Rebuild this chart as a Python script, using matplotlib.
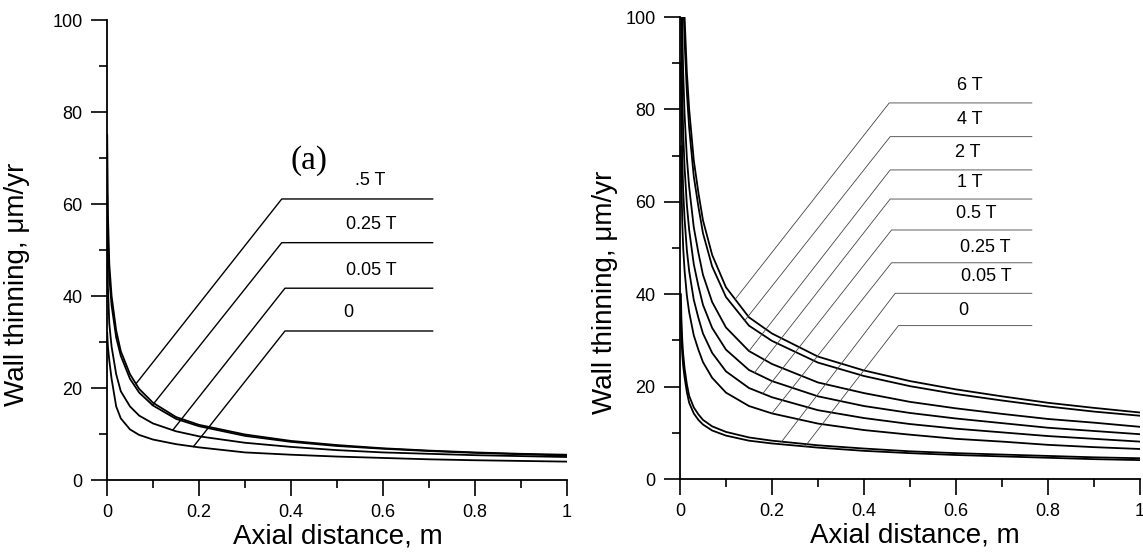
import numpy as np
import matplotlib
matplotlib.use("Agg")
import matplotlib.pyplot as plt
from matplotlib.ticker import MultipleLocator, FuncFormatter

plt.rcParams['font.family'] = ['Liberation Sans', 'DejaVu Sans']

# ---- panel (a) data ----
x_a = [0.0005, 0.002, 0.005, 0.01, 0.02, 0.03, 0.05, 0.07, 0.1, 0.15,
       0.2, 0.3, 0.4, 0.5, 0.6, 0.7, 0.8, 0.9, 1.0]
labels_a = ['.5 T', '0.25 T', '0.05 T', '0']
y_a_05 = [75, 58, 47, 40, 32.5, 28, 23, 19.8, 16.8, 13.7,
          12.0, 9.9, 8.5, 7.6, 6.9, 6.4, 6.0, 5.7, 5.5]
y_a_025 = [62, 52, 44, 38, 31, 27, 22, 19, 16.2, 13.3,
           11.7, 9.6, 8.3, 7.4, 6.8, 6.3, 5.9, 5.6, 5.3]
y_a_005 = [54, 42, 34, 29, 23, 19.3, 16, 14, 12.3, 10.6,
           9.5, 8.1, 7.2, 6.5, 6.0, 5.7, 5.4, 5.2, 5.0]
y_a_0 = [32, 29, 26, 22, 16, 13.4, 11, 9.8, 8.8, 7.8,
         7.1, 6.0, 5.5, 5.1, 4.8, 4.5, 4.3, 4.15, 4.0]

# ---- panel (b) data ----
x_b = [0.002, 0.003, 0.005, 0.007, 0.01, 0.015, 0.02, 0.03, 0.04, 0.05, 0.07,
       0.1, 0.15, 0.2, 0.3, 0.4, 0.5, 0.6, 0.7, 0.8, 0.9, 1.0]
labels_b = ['6 T', '4 T', '2 T', '1 T', '0.5 T', '0.25 T', '0.05 T', '0']
y_b_6 = [160, 145, 123, 111, 100, 88, 80, 69, 62, 56, 48.5,
         41.5, 35, 31.5, 26.5, 23.5, 21.2, 19.4, 17.9, 16.5, 15.4, 14.4]
y_b_4 = [152, 138, 117, 105, 95, 83.6, 76, 65.5, 59, 53.2, 46,
         39.4, 33.2, 29.9, 25.2, 22.3, 20.1, 18.4, 17.0, 15.7, 14.6, 13.7]
y_b_2 = [126, 115, 97, 88, 79, 69.5, 63.2, 54.5, 49, 44.2, 38.3,
         32.8, 27.7, 24.9, 20.9, 18.6, 16.7, 15.3, 14.1, 13.0, 12.2, 11.3]
y_b_1 = [108, 98, 83, 75, 67.4, 59.3, 53.9, 46.5, 41.8, 37.7, 32.7,
         28, 23.6, 21.2, 17.9, 15.8, 14.3, 13.1, 12.1, 11.1, 10.4, 9.7]
y_b_05 = [90, 81.6, 69.2, 62.4, 56.3, 49.5, 45, 38.8, 34.9, 31.5, 27.3,
          23.3, 19.7, 17.7, 14.9, 13.2, 11.9, 10.9, 10.1, 9.3, 8.7, 8.1]
y_b_025 = [72, 65.4, 55.5, 50, 45.1, 39.7, 36.1, 31.1, 28, 25.3, 21.9,
           18.7, 15.8, 14.2, 12, 10.6, 9.6, 8.7, 8.1, 7.4, 6.9, 6.5]
y_b_005 = [40, 35, 30, 27, 24, 20.5, 18, 15.5, 14, 12.8, 11.4,
           10.2, 9.0, 8.3, 7.3, 6.6, 6.0, 5.6, 5.3, 5.0, 4.7, 4.5]
y_b_0 = [35, 31, 27, 24.5, 22, 18.8, 16.5, 14.2, 12.8, 11.8, 10.5,
         9.4, 8.3, 7.7, 6.8, 6.1, 5.6, 5.2, 4.9, 4.6, 4.3, 4.1]

# leader lines: x where it leaves the curve, knee x, knee y, end x, label x, label y
lead_a = [(0.063, 0.380, 61.1, 0.708, 0.572, 63.2),
          (0.099, 0.380, 51.6, 0.708, 0.575, 53.7),
          (0.143, 0.387, 41.7, 0.708, 0.575, 43.6),
          (0.188, 0.387, 32.4, 0.708, 0.525, 34.6)]
lead_b = [(0.120, 0.455, 81.4, 0.765, 0.631, 83.3),
          (0.141, 0.457, 74.1, 0.765, 0.629, 75.9),
          (0.150, 0.457, 66.9, 0.765, 0.625, 68.8),
          (0.162, 0.457, 60.6, 0.765, 0.629, 62.3),
          (0.180, 0.460, 53.9, 0.765, 0.645, 55.7),
          (0.200, 0.460, 46.8, 0.765, 0.663, 48.3),
          (0.221, 0.468, 40.2, 0.765, 0.665, 42.0),
          (0.272, 0.475, 33.2, 0.765, 0.617, 34.6)]


def style_axes(ax):
    ax.set_xlim(0, 1)
    ax.set_ylim(0, 100)
    ax.spines['top'].set_visible(False)
    ax.spines['right'].set_visible(False)
    ax.spines['left'].set_linewidth(1.3)
    ax.spines['bottom'].set_linewidth(1.3)
    ax.xaxis.set_major_locator(MultipleLocator(0.2))
    ax.xaxis.set_minor_locator(MultipleLocator(0.1))
    ax.yaxis.set_major_locator(MultipleLocator(20))
    ax.yaxis.set_minor_locator(MultipleLocator(10))
    ax.xaxis.set_major_formatter(FuncFormatter(lambda v, p: '%g' % round(v, 2)))
    ax.tick_params(which='major', direction='out', length=11.5, width=1.2,
                   labelsize=13, pad=6)
    ax.tick_params(which='minor', direction='out', length=6, width=1.2)
    ax.set_xlabel('Axial distance, m', fontsize=20)
    ax.set_ylabel('Wall thinning, \u03bcm/yr', fontsize=20)


fig = plt.figure(figsize=(11.43, 5.52), dpi=100)
ax1 = fig.add_axes([0.0936, 0.1304, 0.4024, 0.8333])
ax2 = fig.add_axes([0.5949, 0.1322, 0.4024, 0.837])

curves_a = [y_a_05, y_a_025, y_a_005, y_a_0]
for y in curves_a:
    ax1.plot(x_a, y, color='black', lw=1.3)
for y, (xs, kx, ky, ex, tx, ty), lab in zip(curves_a, lead_a, labels_a):
    ys = np.interp(xs, x_a, y)
    ax1.plot([xs, kx, ex], [ys, ky, ky], color='black', lw=1.0)
    ax1.text(tx, ty, lab, ha='center', va='bottom', fontsize=13)
ax1.text(0.44, 69.5, '(a)', ha='center', va='center', fontsize=24,
         family=['Liberation Serif', 'DejaVu Serif'])

curves_b = [y_b_6, y_b_4, y_b_2, y_b_1, y_b_05, y_b_025, y_b_005, y_b_0]
for y in curves_b:
    ax2.plot(x_b, y, color='black', lw=1.3)
for y, (xs, kx, ky, ex, tx, ty), lab in zip(curves_b, lead_b, labels_b):
    ys = np.interp(xs, x_b, y)
    ax2.plot([xs, kx, ex], [ys, ky, ky], color='#444444', lw=0.6)
    ax2.text(tx, ty, lab, ha='center', va='bottom', fontsize=13)

style_axes(ax1)
style_axes(ax2)
ax1.yaxis.set_label_coords(-0.167, 0.426)
ax2.yaxis.set_label_coords(-0.135, 0.405)
ax1.xaxis.set_label_coords(0.502, -0.095)
ax2.xaxis.set_label_coords(0.51, -0.095)

fig.savefig('out.png', dpi=100)
